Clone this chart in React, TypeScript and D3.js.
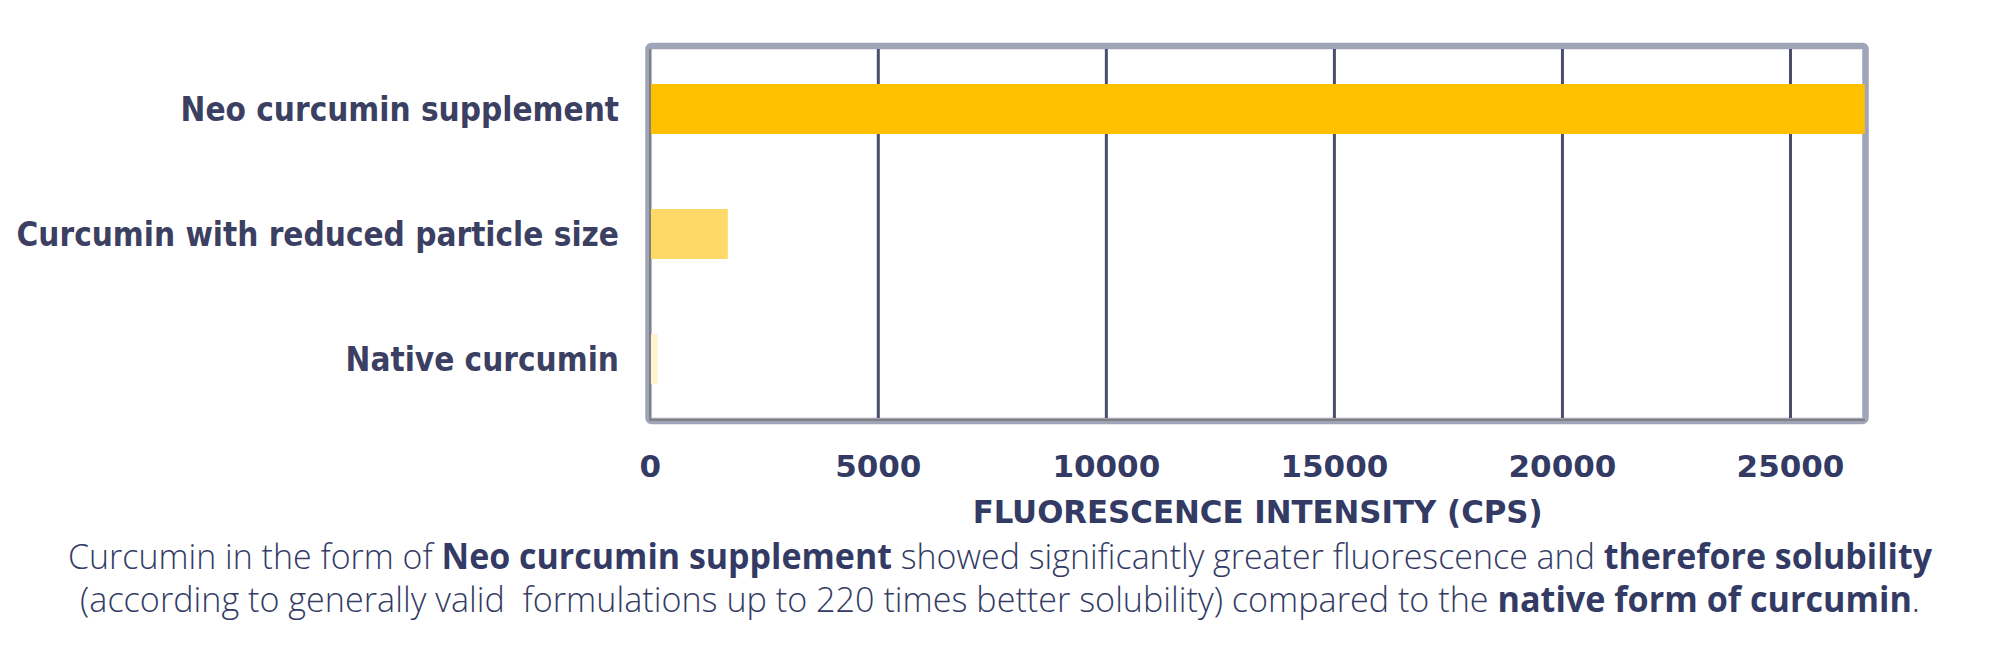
import React from "react";
import * as d3 from "d3";

const categories = ["Neo curcumin supplement", "Curcumin with reduced particle size", "Native curcumin"];
const values = [26630, 1700, 160];
const barColors = ["#FFC000", "#FFD966", "#FFF2CC"];
const ticks = [0, 5000, 10000, 15000, 20000, 25000];
const xMax = 26650;
const axisTitle = "FLUORESCENCE INTENSITY (CPS)";
const captionLine1 = [
  { t: "Curcumin in the form of ", b: false },
  { t: "Neo curcumin supplement", b: true },
  { t: " showed significantly greater fluorescence and ", b: false },
  { t: "therefore solubility", b: true },
];
const captionLine2 = [
  { t: "(according to generally valid  formulations up to 220 times better solubility) compared to the ", b: false },
  { t: "native form of curcumin", b: true },
  { t: ".", b: false },
];

const W = 2000;
const H = 645;
const NAVY = "#333b64";

export default function App() {
  const plotLeft = 650.25;
  const plotRight = plotLeft + (1790.5 - 878.3) / 20000 * xMax;
  const plotTop = 46.5;
  const plotBottom = 421.5;

  const x = d3.scaleLinear().domain([0, xMax]).range([plotLeft, plotRight]);
  const y = d3
    .scaleBand<string>()
    .domain(categories)
    .range([plotTop, plotBottom])
    .paddingInner(0.6)
    .paddingOuter(0.3);

  return (
    <svg
      width={W}
      height={H}
      style={{ position: "absolute", left: 0, top: 0, display: "block", background: "#fff" }}
    >
      {/* plot frame */}
      <rect
        x={648.5}
        y={46}
        width={1865.5 - 648.5}
        height={421 - 46}
        rx={3}
        fill="#fff"
        stroke="#9fa4b9"
        strokeWidth={6.5}
      />
      {/* gridlines */}
      {ticks
        .filter((t) => t > 0)
        .map((t) => (
          <line
            key={t}
            x1={x(t)}
            x2={x(t)}
            y1={49}
            y2={418}
            stroke="#4a4d6c"
            strokeWidth={3}
          />
        ))}
      {/* bars */}
      {categories.map((c, i) => (
        <rect
          key={c}
          x={x(0)}
          y={y(c)}
          width={x(values[i]) - x(0)}
          height={y.bandwidth()}
          fill={barColors[i]}
        />
      ))}
      {/* axis lines */}
      <line x1={650} x2={650} y1={49} y2={421} stroke="#808080" strokeWidth={2} />
      <line x1={649} x2={1865} y1={420} y2={420} stroke="#808080" strokeWidth={2} />

      {/* category labels */}
      {categories.map((c) => (
        <text
          key={c}
          x={619}
          y={(y(c) as number) + y.bandwidth() / 2 + 11.5}
          textAnchor="end"
          fontFamily="'DejaVu Sans Condensed', 'DejaVu Sans', sans-serif"
          fontWeight="bold"
          fontSize={33}
          fill="#3b4062"
        >
          {c}
        </text>
      ))}

      {/* tick labels */}
      {ticks.map((t) => (
        <text
          key={t}
          x={x(t)}
          y={477}
          textAnchor="middle"
          fontFamily="'DejaVu Sans', sans-serif"
          fontWeight="bold"
          fontSize={31}
          fill={NAVY}
        >
          {t}
        </text>
      ))}

      {/* axis title */}
      <text
        x={(plotLeft + 1865) / 2}
        y={523}
        textAnchor="middle"
        fontFamily="'DejaVu Sans Condensed', 'DejaVu Sans', sans-serif"
        fontWeight="bold"
        fontSize={32}
        fill={NAVY}
        textLength={570}
        lengthAdjust="spacingAndGlyphs"
      >
        {axisTitle}
      </text>

      {/* caption */}
      <text
        x={1000}
        y={569}
        textAnchor="middle"
        fontFamily="'Open Sans', sans-serif"
        fontSize={35}
        fill={NAVY}
        style={{ whiteSpace: "pre" }}
        textLength={1864}
        lengthAdjust="spacingAndGlyphs"
      >
        {captionLine1.map((s, i) => (
          <tspan key={i} fontWeight={s.b ? 700 : 300}>
            {s.t}
          </tspan>
        ))}
      </text>
      <text
        x={1000}
        y={612}
        textAnchor="middle"
        fontFamily="'Open Sans', sans-serif"
        fontSize={35}
        fill={NAVY}
        style={{ whiteSpace: "pre" }}
        textLength={1840}
        lengthAdjust="spacingAndGlyphs"
      >
        {captionLine2.map((s, i) => (
          <tspan key={i} fontWeight={s.b ? 700 : 300}>
            {s.t}
          </tspan>
        ))}
      </text>
    </svg>
  );
}
